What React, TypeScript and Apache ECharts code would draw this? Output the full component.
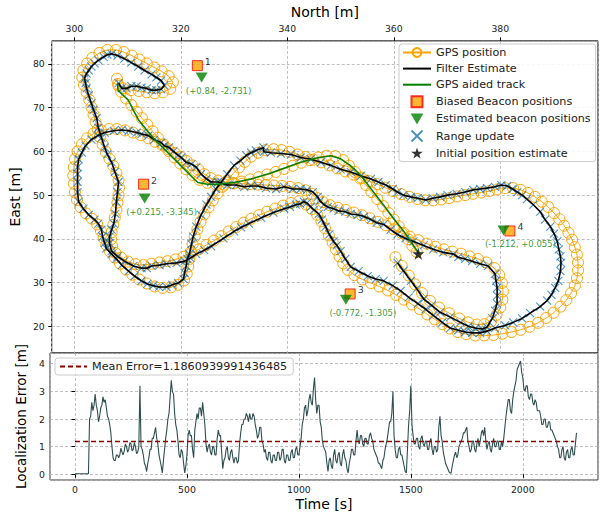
import React, { useEffect, useRef } from "react";
import * as echarts from "echarts";

// ---------- data (North [m], East [m]) ----------
const gpsPositions: number[][] = [
  [360.3,35.8],[361.5,33.8],[362.8,31.6],[364.0,29.6],[365.3,27.6],[366.8,25.8],[368.5,24.3],[370.4,23.0],[372.3,21.8],[374.0,20.9],[375.6,20.4],[377.0,20.5],[378.3,21.2],
  [379.3,22.6],[380.0,24.3],[380.4,26.1],[380.5,28.0],[380.3,29.9],[379.8,31.7],[378.9,33.3],
  [377.4,34.6],[375.8,35.4],[374.2,36.0],[372.6,36.6],[371.0,37.1],[369.4,37.6],[367.8,38.2],[366.2,38.9],[364.6,39.7],[363.0,40.5],[361.5,41.3],[360.0,42.2],[358.5,43.1],[357.0,43.9],[355.5,44.7],[354.0,45.4],[352.5,46.0],[351.0,46.6],[349.5,47.1],[348.0,47.7],[346.7,48.4],[345.6,49.3],[344.6,50.3],[343.4,51.1],[342.0,51.6],[340.5,51.9],[339.0,52.1],[337.5,52.2],[336.0,52.3],[334.5,52.4],[333.0,52.5],[331.5,52.6],[330.0,52.7],[328.5,52.9],[327.0,53.3],
  [325.6,53.9],[324.4,54.8],[323.3,55.8],[322.2,56.8],[321.1,57.8],[320.0,58.7],[318.9,59.6],[317.7,60.5],[316.5,61.4],[315.2,62.2],[313.9,63.0],[312.5,63.7],[311.0,64.3],[309.5,64.8],[308.0,65.1],[306.5,65.1],[305.0,64.8],[303.6,64.1],[302.4,63.0],[301.4,61.6],[300.6,60.0],[300.1,58.2],[299.9,56.4],[299.8,54.5],[299.9,52.6],[300.1,50.7],[300.5,48.9],[301.2,47.2],[302.2,45.8],[303.3,44.6],[304.3,43.3],[305.0,41.8],[305.5,40.2],[306.0,38.6],[306.7,37.1],[307.6,35.7],[308.6,34.3],[309.7,33.0],[310.9,31.8],[312.2,30.7],[313.6,29.8],[315.1,29.1],[316.6,28.8],[318.1,28.9],[319.5,29.5],[320.6,30.5],
  [321.1,32.0],[321.4,33.7],[321.6,35.4],[321.9,37.1],[322.2,38.8],[322.6,40.5],[323.1,42.2],[323.7,43.9],[324.4,45.6],[325.2,47.2],[326.0,48.8],[326.9,50.4],[327.8,51.9],[328.8,53.4],[329.8,54.9],[330.9,56.3],[332.0,57.6],[333.2,58.8],[334.5,59.7],[335.9,60.3],[337.4,60.5],
  [338.9,60.3],[340.4,59.9],[341.9,59.3],[343.4,58.7],[344.9,58.1],[346.4,57.5],[347.9,56.8],[349.4,56.1],[350.9,55.4],[352.4,54.7],[353.9,54.0],[355.4,53.2],[356.9,52.5],[358.4,51.7],[359.9,50.9],[361.4,50.2],[362.9,49.6],[364.4,49.1],[365.9,48.8],[367.4,48.8],[368.9,49.0],[370.4,49.3],[371.9,49.7],[373.4,50.0],[374.9,50.3],[376.4,50.6],[377.9,50.9],[379.4,51.3],[380.9,51.6],[382.4,51.6],
  [383.8,51.2],[385.2,50.5],[386.5,49.6],[387.8,48.5],[389.0,47.3],[390.1,45.9],[391.1,44.5],[392.0,43.0],[392.8,41.4],[393.5,39.8],[394.0,38.1],[394.4,36.4],[394.6,34.6],[394.6,32.8],[394.4,31.0],[394.0,29.3],[393.3,27.6],[392.4,26.0],[391.3,24.5],[390.0,23.1],[388.6,21.9],[387.1,20.8],[385.5,19.9],[383.8,19.2],[382.1,18.7],[380.4,18.3],[378.7,18.0],[377.0,17.9],[375.3,17.9],
  [373.6,18.2],[372.0,18.7],[370.5,19.5],[369.1,20.5],[367.7,21.6],[366.3,22.7],[364.9,23.9],[363.4,25.0],[361.9,26.1],[360.4,27.2],[358.9,28.2],[357.3,29.1],[355.7,29.9],[354.1,30.7],[352.6,31.7],[351.4,32.9],[350.5,34.4],[349.8,36.0],[349.1,37.6],[348.5,39.2],[347.8,40.8],[347.1,42.4],[346.4,44.0],[345.6,45.5],[344.6,46.8],[343.5,47.9],[342.2,48.6],
  [340.7,48.2],[339.2,47.6],[337.7,46.9],[336.2,46.2],[334.7,45.4],[333.2,44.6],[331.8,43.7],[330.4,42.7],[329.0,41.7],[327.6,40.6],[326.2,39.6],[324.8,38.6],[323.4,37.6],[322.0,36.7],[320.5,35.9],[319.0,35.3],[317.5,34.9],[316.0,34.6],[314.5,34.3],[313.0,34.0],[311.5,34.2],[310.1,34.8],[308.8,35.7],[307.7,36.8],
  [307.1,38.3],[306.9,39.9],[307.0,41.5],[307.3,43.2],[307.6,44.9],[307.9,46.6],[308.1,48.3],[308.3,50.0],[308.4,51.7],[308.3,53.4],[307.9,55.1],[307.3,56.7],[306.6,58.3],[305.9,59.9],[305.3,61.6],[304.8,63.3],[304.4,65.0],[304.0,66.7],[303.6,68.4],[303.2,70.1],[302.8,71.8],[302.3,73.5],[301.8,75.2],[301.5,76.9],
  [301.7,78.6],[302.4,80.1],[303.4,81.4],[304.7,82.5],[306.2,83.2],[307.8,83.2],[309.3,82.7],[310.8,81.9],[312.2,81.0],[313.6,80.1],[315.0,79.2],[316.4,78.3],[317.7,77.2],[318.5,75.8],[318.0,74.3],[316.6,73.5],[315.1,73.3],[313.6,73.5],[312.1,73.8],[310.6,74.0],[309.2,74.4],[308.2,75.4],[308.0,76.6],
  [308.3,75.0],[308.8,73.6],[309.7,72.1],[310.7,70.6],[311.7,69.1],[312.7,67.6],[313.7,66.1],[314.7,64.6],[315.7,63.1],[316.7,61.6],[317.7,60.1],[318.8,58.6],[319.9,57.2],[321.0,55.9],[322.2,54.6],[323.5,53.5],[325.0,52.8],[326.6,52.4],[328.2,52.4],[329.8,52.7],[331.4,53.1],[333.0,53.6],[334.6,54.1],[336.2,54.7],[337.8,55.3],[339.4,56.0],[341.0,56.7],[342.6,57.4],[344.2,58.0],[345.8,58.6],[347.4,59.0],[349.0,58.9],[350.5,58.0],[351.6,56.7],[352.7,55.3],[353.7,53.8],[354.8,52.3],[355.8,50.7],[356.9,49.1],[358.0,47.5],[359.0,45.9],[360.0,44.4],[360.9,42.9],[361.8,41.4],[362.7,39.9],[363.5,38.4],[364.3,37.0]
];

const filterEstimate: number[][] = [
  [360.7,34.5],[361.8,32.7],[363.2,30.4],[364.3,28.6],[365.6,26.3],[367.1,24.8],[368.7,23.2],[370.6,22.1],[372.5,20.9],[374.0,20.0],[375.3,19.6],[376.6,19.4],[377.5,19.8],
  [378.5,21.8],[379.0,23.6],[379.4,25.2],[379.4,27.0],[379.4,28.8],[379.2,30.4],[379.0,32.0],[377.7,33.8],
  [376.2,34.3],[374.7,34.9],[373.4,35.4],[372.1,35.8],[371.2,36.5],[369.3,36.9],[367.4,37.6],[365.6,38.5],[363.7,39.4],[362.2,40.1],[360.7,41.0],[359.4,42.1],[358.1,43.3],[356.8,43.7],[355.7,44.4],[354.4,45.1],[353.2,45.5],[351.9,45.7],[350.9,46.2],[349.6,46.4],[348.7,46.9],[347.6,47.3],[346.9,47.8],[346.1,48.7],[345.7,49.6],[344.8,50.7],[343.7,51.2],[342.5,51.4],[341.0,51.4],[339.4,51.9],[337.9,51.4],[336.0,51.6],[334.5,52.1],[333.2,52.1],[331.9,51.9],[330.4,52.3],[328.7,52.3],[327.0,53.0],
  [325.7,53.0],[324.8,53.7],[323.8,54.8],[322.9,56.4],[322.0,57.1],[321.0,57.5],[320.1,58.6],[319.5,59.1],[318.6,60.0],[317.8,60.9],[316.9,61.3],[316.3,62.0],[315.0,62.7],[313.9,63.6],[312.6,64.0],[311.7,64.3],[310.2,64.7],[308.9,64.9],[307.4,64.7],[305.7,64.3],[304.4,63.6],[303.2,62.7],[302.1,61.3],[301.4,59.7],[300.8,58.2],[300.6,56.4],[300.6,54.8],[300.6,53.0],[300.6,50.7],[300.8,48.5],[301.7,46.9],[302.7,45.5],[303.8,44.4],[304.5,43.5],[305.1,42.1],[305.3,40.5],[305.7,39.0],[306.0,37.8],[307.0,36.5],[307.9,35.4],[308.9,34.0],[310.2,32.6],[311.3,31.5],[312.6,30.4],[313.7,29.7],[314.8,29.3],[315.9,29.0],[317.3,29.0],[318.4,29.5],[319.5,29.9],[320.5,30.8],
  [320.7,32.2],[321.0,33.8],[321.2,35.4],[321.6,36.5],[322.0,38.8],[322.3,40.5],[322.9,42.8],[323.8,45.5],[324.8,47.8],[325.7,49.6],[326.6,51.4],[327.6,53.0],[328.7,54.8],[330.0,56.8],[331.2,57.9],[332.3,59.1],[333.2,59.7],[334.1,60.2],[335.5,60.9],[335.6,59.9],[336.9,59.7],
  [338.8,59.5],[340.7,59.3],[342.5,58.6],[344.4,58.2],[346.3,57.5],[348.2,56.8],[350.0,55.9],[351.9,55.3],[353.8,54.4],[355.7,53.7],[357.1,53.0],[358.5,52.3],[359.8,51.4],[360.7,50.7],[361.8,50.0],[363.2,49.6],[364.5,49.3],[366.0,48.9],[367.3,49.3],[368.7,49.6],[370.1,50.0],[371.8,50.3],[373.4,50.7],[374.9,51.2],[376.2,51.4],[377.5,51.6],[379.0,51.9],[380.2,52.3],[381.3,52.1],
  [382.3,51.4],[383.2,50.7],[384.1,50.0],[385.0,49.1],[386.2,47.8],[387.5,46.2],[388.4,44.4],[389.4,42.8],[390.1,41.2],[390.7,39.4],[391.0,37.6],[391.3,36.0],[391.4,34.5],[391.3,32.6],[390.9,30.4],[390.3,28.8],[389.6,27.2],[388.8,25.9],[387.5,24.5],[385.6,23.0],[384.1,21.8],[382.4,20.9],[380.9,20.2],[379.0,19.6],[377.5,18.9],[376.2,18.5],
  [374.7,18.5],[373.4,18.7],[372.1,19.1],[370.6,19.6],[369.1,20.9],[367.4,22.5],[366.0,23.9],[364.5,25.2],[362.8,26.6],[361.3,28.1],[359.8,29.3],[358.1,30.4],[356.6,30.8],[355.1,31.5],[353.4,32.6],[351.9,33.6],[350.9,35.4],[350.0,37.2],[349.3,38.5],[348.7,39.4],[347.9,41.0],[347.2,42.8],[346.5,44.4],[345.9,45.7],[345.0,46.6],[344.4,47.3],[343.7,48.2],[343.1,48.5],
  [342.4,48.0],[341.6,47.8],[340.5,47.3],[339.4,46.9],[337.4,46.0],[335.1,44.8],[332.8,43.5],[331.3,42.6],[330.0,41.7],[328.0,40.1],[325.7,38.3],[324.4,37.4],[322.9,36.5],[321.8,35.6],[320.7,34.9],[319.2,34.5],[317.3,34.3],[316.0,34.0],[314.5,33.8],[313.6,33.3],[312.6,33.3],[311.1,33.8],[309.4,34.9],[308.1,36.0],[307.0,37.2],
  [306.6,39.0],[306.6,40.5],[307.0,42.1],[307.4,43.5],[307.7,45.7],[307.9,48.5],[308.1,50.7],[308.3,53.0],[307.6,55.3],[307.0,57.5],[306.2,59.3],[305.7,60.9],[305.1,63.1],[304.5,65.4],[304.2,67.6],[303.6,69.5],[303.2,71.0],[302.7,72.8],[302.3,74.4],[302.1,75.6],[301.9,76.7],
  [302.3,77.8],[302.7,78.5],[303.2,79.4],[303.8,80.1],[304.5,80.8],[305.5,81.6],[306.2,82.1],[307.0,82.3],[308.1,81.9],[309.4,81.2],[310.7,80.3],[312.0,79.4],[313.2,78.5],[314.5,77.6],[315.4,76.9],[316.3,76.2],[316.9,75.1],[316.3,74.2],[315.4,74.0],[314.5,74.0],[313.6,74.4],[312.6,74.6],[311.7,74.9],[310.7,74.9],[309.8,74.4],[308.9,74.4],[308.3,75.6]
];

const gpsAidedTrack: number[][] = [
  [308.1,75.6],[308.2,74.0],[309.0,73.0],[310.1,71.8],[311.0,69.6],[312.0,67.3],[313.5,65.0],[315.1,62.7],[317.0,60.4],[318.8,58.2],[320.6,56.0],[322.5,53.7],[323.2,52.9],[325.0,52.5],[327.0,52.5],[330.0,52.9],[333.2,53.7],[336.5,54.9],[339.5,56.2],[342.5,57.5],[345.5,58.5],[348.2,59.0],[350.0,58.3],[351.8,56.8],[353.8,54.5],[356.0,51.0],[358.1,47.7],[360.0,44.6],[361.9,41.7],[363.2,39.4],[364.4,37.2],[364.6,36.6]
];

const biasedBeacons: number[][] = [[323.1,79.6],[313.0,52.5],[351.8,27.4],[381.8,41.8]];
const estimatedBeacons: number[][] = [[323.9,76.9],[313.2,49.2],[351.0,26.1],[380.6,41.9]];
const beaconIds: string[] = ["1", "2", "3", "4"];
const beaconCorrections: string[] = ["(+0.84, -2.731)", "(+0.215, -3.345)", "(-0.772, -1.305)", "(-1.212, +0.055)"];
const initialPosition: number[][] = [[364.6, 36.6]];

// ---------- localization error (one sample every 5 s from t = 0) ----------
const ERR_DT = 5;
const errValues: number[] = [
  0.02,0.02,0.02,0.02,0.02,0.02,0.02,0.02,0.02,0.02,0.02,0.02,0.02,2.0,2.1,2.6,2.3,2.5,2.9,2.5,
  2.3,1.9,2.1,2.4,2.5,2.8,2.6,2.7,2.4,2.1,2.0,1.8,1.5,1.0,0.6,0.5,0.5,0.7,0.7,0.6,
  0.7,0.95,0.8,0.7,0.85,1.1,1.0,0.8,0.9,1.15,1.1,0.85,0.9,1.15,1.0,0.75,0.8,1.0,3.2,1.0,
  0.9,0.7,0.4,0.3,0.1,0.4,0.6,0.9,0.9,1.3,1.3,1.5,1.7,1.3,1.1,0.7,0.5,0.3,0.05,0.5,
  0.9,1.3,1.6,2.0,2.2,2.8,3.4,3.0,2.9,2.2,1.8,1.6,1.2,0.7,0.6,0.9,0.8,0.4,0.05,0.3,
  0.7,1.4,1.6,1.4,1.4,0.9,0.6,1.6,1.9,2.2,2.0,2.4,2.4,2.1,2.6,2.2,1.8,1.1,0.8,1.0,
  1.1,0.8,0.7,1.0,1.0,0.7,0.7,1.3,1.6,1.4,1.4,0.8,0.2,0.5,0.6,0.9,1.0,0.6,0.5,0.8,
  0.9,0.6,0.4,0.6,0.6,0.4,0.5,1.1,1.5,1.8,1.8,2.0,2.0,2.2,2.1,1.9,2.2,2.0,2.0,2.2,
  2.1,1.8,1.6,1.3,1.4,1.7,1.7,1.2,1.1,0.8,0.9,0.6,0.5,0.8,0.8,0.5,0.4,0.7,0.7,0.5,
  0.5,0.8,0.8,0.5,0.6,0.9,0.9,0.5,0.4,0.7,0.7,0.5,0.5,0.8,0.9,0.6,0.6,0.9,1.0,0.7,
  0.7,1.0,1.3,1.8,2.0,2.4,2.5,2.1,2.3,2.7,2.9,2.6,2.5,3.1,3.5,2.7,2.2,2.5,2.5,1.9,
  1.7,1.2,1.0,0.9,0.8,0.4,0.1,0.5,0.6,0.3,0.2,0.7,0.9,0.5,0.4,0.7,0.8,0.4,0.3,0.7,
  0.9,0.6,0.5,0.2,0.05,0.4,0.6,0.9,0.9,0.7,0.7,1.2,1.6,1.2,1.1,1.4,1.4,1.1,1.0,1.3,
  1.3,1.1,1.1,1.4,1.5,1.3,1.2,0.9,0.8,0.7,0.6,0.4,0.4,0.3,0.2,0.5,0.6,0.9,1.1,1.3,
  1.6,1.9,1.9,2.2,3.0,1.4,0.9,0.6,0.6,0.9,1.0,0.7,0.7,0.5,0.3,0.1,0.05,0.9,1.8,2.3,
  3.2,1.8,1.4,1.1,1.1,1.3,1.3,1.0,0.9,1.3,1.4,1.1,1.0,1.2,1.2,0.9,0.9,1.2,1.3,0.9,
  0.7,1.0,1.0,0.8,0.9,1.7,2.1,1.4,1.2,0.8,0.6,0.4,0.3,0.2,0.1,0.05,0.05,0.3,0.5,0.7,
  0.8,0.6,0.7,1.0,1.1,1.2,1.3,1.5,1.5,1.6,1.7,1.2,1.0,0.8,0.9,1.2,1.2,0.9,0.8,1.1,
  1.3,1.0,1.2,1.5,1.6,1.4,1.7,1.2,0.9,1.1,1.2,0.9,0.8,1.1,1.3,1.0,1.0,1.2,1.2,0.9,
  0.9,1.2,1.0,1.3,1.7,2.1,2.4,2.7,2.7,2.3,2.2,2.7,3.0,3.2,3.4,3.8,3.9,4.0,4.1,3.7,
  3.5,3.1,3.0,3.2,3.2,2.8,2.7,2.9,2.9,2.6,2.5,2.7,2.6,2.3,2.3,2.3,2.1,1.8,1.8,2.0,
  2.0,1.7,1.7,1.9,1.9,1.6,1.6,1.5,1.4,1.3,1.2,1.0,0.9,0.6,0.6,0.9,1.0,0.6,0.5,0.8,
  0.9,0.6,0.6,0.9,1.0,0.7,0.7,1.1,1.5
];
const meanError = 1.1860939991436485;
const meanSpan: number[] = [0, 2230];

const SQUARE = "path://M0,0L10,0L10,10L0,10Z";
const TRI_DOWN = "path://M0,0L10,0L5,8.66Z";
const CROSS = "path://M0,0L10,10M10,0L0,10";
const STAR = "path://M50,0L61.2,34.5L97.6,34.5L68.2,55.9L79.4,90.5L50,69.1L20.6,90.5L31.8,55.9L2.4,34.5L38.8,34.5Z";

const FONT = "DejaVu Sans";
const gridLine = { show: true, lineStyle: { color: "#b0b0b0", type: [3, 2] as any, width: 0.8 } };
const hideSymbol = { opacity: 0 };

export default function App() {
  const ref = useRef<HTMLDivElement>(null);
  useEffect(() => {
    if (!ref.current) return;
    const chart = echarts.init(ref.current, undefined, { renderer: "svg" });
    const meanName = "Mean Error=" + String(meanError);
    const option: any = {
      animation: false,
      backgroundColor: "#ffffff",
      textStyle: { fontFamily: FONT },
      grid: [
        { left: 50, top: 37, width: 548, height: 316, show: true, borderColor: "#000", borderWidth: 1, backgroundColor: "transparent" },
        { left: 50, top: 353, width: 548, height: 127, show: true, borderColor: "#333", borderWidth: 1, backgroundColor: "transparent" },
      ],
      legend: [
        {
          orient: "vertical",
          left: 399,
          top: 44,
          padding: [3, 5, 3, 3],
          itemWidth: 28,
          itemHeight: 11,
          itemGap: 5.1,
          backgroundColor: "rgba(255,255,255,0.85)",
          borderColor: "#cccccc",
          borderWidth: 1,
          borderRadius: 3,
          textStyle: { fontFamily: FONT, fontSize: 11.2, color: "#222" },
          data: [
            "GPS position",
            { name: "Filter Estimate", itemStyle: hideSymbol },
            { name: "GPS aided track", itemStyle: hideSymbol },
            "Biased Beacon positions",
            "Estimated beacon positions",
            "Range update",
            "Initial position estimate",
          ],
        },
        {
          orient: "vertical",
          left: 55,
          top: 358,
          padding: [3, 6, 3, 4],
          itemWidth: 27,
          itemHeight: 12,
          backgroundColor: "rgba(255,255,255,0.85)",
          borderColor: "#cccccc",
          borderWidth: 1,
          borderRadius: 3,
          textStyle: { fontFamily: FONT, fontSize: 11.2, color: "#222" },
          data: [{ name: meanName, itemStyle: hideSymbol }],
        },
      ],
      xAxis: [
        {
          type: "value", gridIndex: 0, position: "top", min: 295.75, max: 398.35,
          name: "North [m]", nameLocation: "middle", nameGap: 19,
          nameTextStyle: { fontSize: 14, color: "#000", fontFamily: FONT },
          axisLine: { show: false },
          axisTick: { show: true, length: 3.5, lineStyle: { color: "#000" } },
          axisLabel: { fontSize: 9.3, color: "#222", margin: 8, showMinLabel: false, showMaxLabel: false, formatter: (v: number) => String(v) },
          splitLine: gridLine,
        },
        {
          type: "value", gridIndex: 1, position: "bottom", min: -111.7, max: 2336,
          name: "Time [s]", nameLocation: "middle", nameGap: 17,
          nameTextStyle: { fontSize: 14, color: "#000", fontFamily: FONT },
          axisLine: { show: false },
          axisTick: { show: true, length: 3.5, lineStyle: { color: "#000" } },
          axisLabel: { fontSize: 9.3, color: "#222", margin: 5, showMinLabel: false, showMaxLabel: false, formatter: (v: number) => String(v) },
          splitLine: gridLine,
        },
      ],
      yAxis: [
        {
          type: "value", gridIndex: 0, min: 13.9, max: 85.26,
          name: "East [m]", nameLocation: "middle", nameGap: 20, nameRotate: 90,
          nameTextStyle: { fontSize: 14, color: "#000", fontFamily: FONT },
          axisLine: { show: false },
          axisTick: { show: true, length: 3.5, lineStyle: { color: "#000" } },
          axisLabel: { fontSize: 9.3, color: "#222", margin: 7, showMinLabel: false, showMaxLabel: false },
          splitLine: gridLine,
        },
        {
          type: "value", gridIndex: 1, min: -0.206, max: 4.387,
          name: "Localization Error [m]", nameLocation: "middle", nameGap: 13, nameRotate: 90,
          nameTextStyle: { fontSize: 13.5, color: "#000", fontFamily: FONT },
          axisLine: { show: false },
          axisTick: { show: true, length: 3.5, lineStyle: { color: "#000" } },
          axisLabel: { fontSize: 9.3, color: "#222", margin: 5, showMinLabel: false, showMaxLabel: false },
          splitLine: gridLine,
        },
      ],
      series: [
        {
          name: "GPS position", type: "line", xAxisIndex: 0, yAxisIndex: 0, z: 2,
          data: gpsPositions, symbol: "circle", symbolSize: 11, showSymbol: true, silent: true,
          itemStyle: { color: "rgba(0,0,0,0)", borderColor: "#ffa500", borderWidth: 1 },
          lineStyle: { color: "#ffa500", width: 1 },
        },
        {
          name: "Range update", type: "scatter", xAxisIndex: 0, yAxisIndex: 0, z: 3,
          data: filterEstimate, symbol: CROSS, symbolSize: 8, silent: true,
          itemStyle: { color: "#1f77b4", borderColor: "#1f77b4", borderWidth: 1.1 },
        },
        {
          name: "Filter Estimate", type: "line", xAxisIndex: 0, yAxisIndex: 0, z: 4,
          data: filterEstimate, symbol: "none", silent: true,
          itemStyle: { color: "#000" },
          lineStyle: { color: "#000", width: 1.6 },
        },
        {
          name: "GPS aided track", type: "line", xAxisIndex: 0, yAxisIndex: 0, z: 5,
          data: gpsAidedTrack, symbol: "none", silent: true,
          itemStyle: { color: "#008000" },
          lineStyle: { color: "#008000", width: 1.5 },
        },
        {
          name: "Biased Beacon positions", type: "scatter", xAxisIndex: 0, yAxisIndex: 0, z: 6,
          data: biasedBeacons, symbol: SQUARE, symbolSize: 10, silent: true,
          itemStyle: { color: "#ffa500", borderColor: "#ff0000", borderWidth: 1 },
          label: {
            show: true, position: "right", distance: 2, offset: [0, -4],
            formatter: (p: any) => beaconIds[p.dataIndex],
            fontSize: 9.5, color: "#000", fontFamily: FONT,
          },
        },
        {
          name: "Estimated beacon positions", type: "scatter", xAxisIndex: 0, yAxisIndex: 0, z: 7,
          data: estimatedBeacons, symbol: TRI_DOWN, symbolSize: [12, 10], silent: true,
          itemStyle: { color: "#008000" },
          label: {
            show: true, position: "bottom", distance: 4, offset: [17, 0],
            formatter: (p: any) => beaconCorrections[p.dataIndex],
            fontSize: 8.5, color: "#008000", fontFamily: FONT,
          },
        },
        {
          name: "Initial position estimate", type: "scatter", xAxisIndex: 0, yAxisIndex: 0, z: 8,
          data: initialPosition, symbol: STAR, symbolSize: 12, silent: true,
          itemStyle: { color: "#000" },
        },
        {
          name: "Localization error", type: "line", xAxisIndex: 1, yAxisIndex: 1, z: 3,
          data: errValues.map((v, i) => [i * ERR_DT, v]), symbol: "none", silent: true,
          lineStyle: { color: "#2f4f4f", width: 1.1 },
          itemStyle: { color: "#2f4f4f" },
        },
        {
          name: meanName, type: "line", xAxisIndex: 1, yAxisIndex: 1, z: 4,
          data: meanSpan.map((t) => [t, meanError]), symbol: "none", silent: true,
          lineStyle: { color: "#8b0000", width: 1.5, type: [5, 3] },
          itemStyle: { color: "#8b0000" },
        },
      ],
    };
    chart.setOption(option);
    return () => chart.dispose();
  }, []);
  return <div ref={ref} style={{ position: "fixed", left: 0, top: 0, width: 606, height: 516 }} />;
}
